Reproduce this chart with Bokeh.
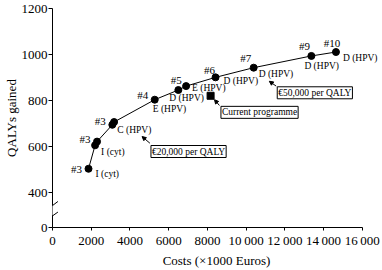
from bokeh.plotting import figure
from bokeh.models import (Range1d, FixedTicker, Label, Arrow, NormalHead,
                          BoxAnnotation, ColumnDataSource)
from bokeh.core.properties import value
from bokeh.embed import file_html
from bokeh.resources import INLINE

# ---- data ----
costs = [1860, 2200, 2300, 3090, 3180, 5280, 6500, 6900, 8420, 10390, 13370, 14640]
qalys = [504, 606, 622, 695, 707, 804, 846, 863, 901, 943, 994, 1011]

rank_idx = [0, 1, 3, 5, 6, 8, 9, 10, 11]
rank_text = ["#3", "#3", "#3", "#4", "#5", "#6", "#7", "#9", "#10"]
rank_dx = [-12, -10, -12, -12, -2, -6, -8, -7, -4]
rank_dy = [0, -6, -4, -5, -10, -7, -10, -10, -9]

strat_idx = [0, 1, 3, 5, 6, 7, 8, 9, 10, 11]
strat_text = ["I (cyt)", "I (cyt)", "C (HPV)", "E (HPV)", "D (HPV)", "E (HPV)",
              "D (HPV)", "D (HPV)", "D (HPV)", "D (HPV)"]
strat_dx = [7, 6, 5, -2, -9, 6, 8, 5, -7, 7]
strat_dy = [5, 7, 5, 9, 8, 2, 4, 6, 10, 6]

current_cost = [8165]
current_qaly = [821]

x_ticks = [0, 2000, 4000, 6000, 8000, 10000, 12000, 14000, 16000]
x_tick_labels = ["0", "2000", "4000", "6000", "8000", "10\u2009000", "12\u2009000",
                 "14\u2009000", "16\u2009000"]
y_zero_pos = 249
y_ticks = [y_zero_pos, 400, 600, 800, 1000, 1200]
y_tick_labels = ["0", "400", "600", "800", "1000", "1200"]

FONT = "Liberation Serif"

p = figure(width=382, height=270, output_backend="svg", toolbar_location=None,
           x_range=Range1d(0, 16940), y_range=Range1d(y_zero_pos, 1200),
           min_border_left=45, min_border_right=2, min_border_top=8,
           min_border_bottom=36)
p.outline_line_color = None
p.xgrid.visible = False
p.ygrid.visible = False
p.background_fill_color = "white"
p.border_fill_color = "white"

# axes
p.xaxis.ticker = FixedTicker(ticks=x_ticks)
p.xaxis.major_label_overrides = {t: l for t, l in zip(x_ticks, x_tick_labels)}
p.xaxis.bounds = (0, 16000)
p.yaxis.ticker = FixedTicker(ticks=y_ticks)
p.yaxis.major_label_overrides = {t: l for t, l in zip(y_ticks, y_tick_labels)}
for ax in (p.xaxis[0], p.yaxis[0]):
    ax.axis_line_color = "black"
    ax.axis_line_width = 1
    ax.major_tick_line_color = "black"
    ax.minor_tick_line_color = None
    ax.major_tick_in = 0
    ax.major_label_text_font = FONT
    ax.major_label_text_font_size = "13px"
    ax.major_label_text_color = "black"
    ax.axis_label_text_font = FONT
    ax.axis_label_text_font_size = "13px"
    ax.axis_label_text_font_style = "normal"
    ax.axis_label_text_color = "black"
p.xaxis.major_tick_out = 3
p.yaxis.major_tick_out = 4
p.xaxis.major_label_standoff = 2
p.yaxis.major_label_standoff = 1
p.xaxis.axis_label_standoff = 2
p.yaxis.axis_label_standoff = 0
p.xaxis.axis_label = "Costs (\u00d71000 Euros)"
p.yaxis.axis_label = "QALYs gained"

# curve and points
p.line(costs, qalys, line_color="black", line_width=1)
p.scatter(costs, qalys, marker="circle", size=7, fill_color="black", line_color="black")
p.scatter(current_cost, current_qaly, marker="square", size=7,
          fill_color="black", line_color="black")

rank_src = ColumnDataSource(dict(
    x=[costs[i] for i in rank_idx], y=[qalys[i] for i in rank_idx],
    text=rank_text, dx=rank_dx, dy=rank_dy))
p.text(x="x", y="y", text="text", x_offset="dx", y_offset="dy", source=rank_src,
       text_font=value(FONT), text_font_size="11px", text_align="center",
       text_baseline="middle", text_color="black")

strat_src = ColumnDataSource(dict(
    x=[costs[i] for i in strat_idx], y=[qalys[i] for i in strat_idx],
    text=strat_text, dx=strat_dx, dy=strat_dy))
p.text(x="x", y="y", text="text", x_offset="dx", y_offset="dy", source=strat_src,
       text_font=value(FONT), text_font_size="9.5px", text_align="left",
       text_baseline="middle", text_color="black")

# boxed annotations with arrows
boxes = [("\u20ac20,000 per QALY", 7027, 579, (5030, 615), (4626, 644)),
         ("Current programme", 10693, 749, (8620, 779), (8367, 804)),
         ("\u20ac50,000 per QALY", 13549, 834, (11552, 863), (11198, 884))]
for txt, bx, by, (sx, sy), (ex, ey) in boxes:
    p.add_layout(Label(x=bx, y=by, text=txt, text_font=FONT, text_font_size="9.5px",
                       text_align="center", text_baseline="middle", text_color="black",
                       border_line_color="black", border_line_width=1,
                       background_fill_color="white", padding=1))
    p.add_layout(Arrow(x_start=sx, y_start=sy, x_end=ex, y_end=ey,
                       line_color="black", line_width=1,
                       end=NormalHead(size=4, fill_color="black", line_color="black")))

# axis break
p.add_layout(BoxAnnotation(left=-300, right=300, bottom=302, top=345,
                           fill_color="white", fill_alpha=1, line_color=None,
                           level="overlay"))
for (x0, y0, x1, y1) in [(-380, 320, 280, 362), (-430, 274, 280, 316)]:
    p.add_layout(Arrow(x_start=x0, y_start=y0, x_end=x1, y_end=y1, end=None,
                       line_color="black", line_width=1, level="overlay"))

open("out.html", "w").write(file_html(p, INLINE))
